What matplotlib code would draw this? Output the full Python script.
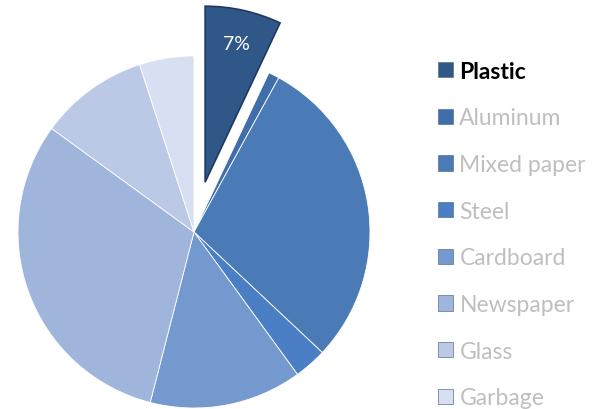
import matplotlib.pyplot as plt
from matplotlib.patches import Patch

# recycling composition (%)
materials = ['Plastic', 'Aluminum', 'Mixed paper', 'Steel', 'Cardboard',
             'Newspaper', 'Glass', 'Garbage']
shares = [7, 1, 29, 3, 14, 31, 10, 5]
colors = ['#2F5788', '#3F6EAA', '#4A7BB6', '#4B7FC5', '#7499CE',
          '#9FB5DC', '#BBC9E6', '#D7E0F3']
R = 176
# matplotlib explode is in data units, so scale by the radius
explode = [0.29 * R, 0, 0, 0, 0, 0, 0, 0]

plt.rcParams['font.family'] = ['Lato', 'DejaVu Sans']

fig = plt.figure(figsize=(6, 4.1), dpi=100)
ax = fig.add_axes([0, 0, 1, 1])

def show_pct(p):
    return '7%' if abs(p - 7) < 0.5 else ''

wedges, texts, autotexts = ax.pie(
    shares, explode=explode, colors=colors, startangle=90,
    counterclock=False, center=(194, 177), radius=R,
    autopct=show_pct, pctdistance=0.81,
    wedgeprops=dict(edgecolor='white', linewidth=0.6),
    textprops=dict(color='white', fontsize=14))
for w in wedges:
    w.set_clip_on(False)
wedges[0].set_edgecolor('#1F3A5E')
wedges[0].set_linewidth(1.2)

ax.set_xlim(0, 600)
ax.set_ylim(0, 410)
ax.set_aspect('equal')
ax.axis('off')

handles = [Patch(facecolor=c, edgecolor='#5a6f90', linewidth=0.5) for c in colors]
leg = ax.legend(handles, materials, loc='upper left',
                bbox_to_anchor=(417 / 600, 1 - 41 / 410), frameon=False,
                fontsize=16.5, handlelength=0.65, handleheight=0.65,
                handletextpad=0.3, labelspacing=1.12)
for i, t in enumerate(leg.get_texts()):
    if i == 0:
        t.set_color('black')
        t.set_fontweight('bold')
    else:
        t.set_color('#BFBFBF')

fig.savefig('out.png', dpi=100)
